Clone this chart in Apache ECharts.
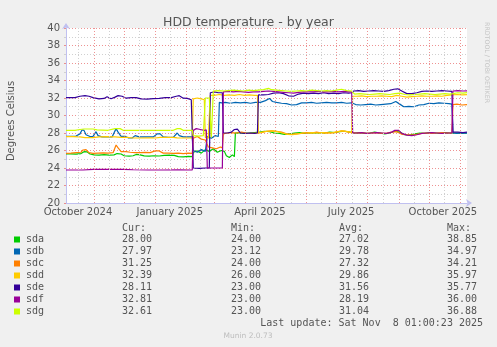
<!DOCTYPE html>
<html>
<head>
<meta charset="utf-8">
<script src="https://cdn.jsdelivr.net/npm/echarts@6/dist/echarts.min.js"></script>
<style>
  html, body { margin: 0; padding: 0; background: #f0f0f0; }
  #chart { width: 497px; height: 347px; }
</style>
</head>
<body>
<div id="chart"></div>
<script>
// Day numbers count from 1 October 2024 (day 0); the graph spans 400 days up to 8 Nov 2025 01:00.
const rangeStart = 3.04;
const rangeEnd = 403.04;

// Month boundaries (major grid) and mid-month lines (minor grid)
const monthStarts = [31, 61, 92, 123, 151, 182, 212, 243, 273, 304, 335, 365, 396];
const midMonths = [15.5, 46, 76.5, 107.5, 137, 166.5, 197, 227.5, 258, 288.5, 319.5, 350, 380.5];

// X tick labels
const labelDays = [15, 106.5, 196.5, 287.5, 379];
const labelTexts = ['October 2024', 'January 2025', 'April 2025', 'July 2025', 'October 2025'];

// Disk names and colours
const disks = ['sda', 'sdb', 'sdc', 'sdd', 'sde', 'sdf', 'sdg'];
const colors = ['#00cc00', '#0066b3', '#ff8000', '#ffcc00', '#330099', '#990099', '#ccff00'];

// Legend statistics
const curVals = ['28.00', '27.97', '31.25', '32.39', '28.11', '32.81', '32.61'];
const minVals = ['24.00', '23.12', '24.00', '26.00', '23.00', '23.00', '23.00'];
const avgVals = ['27.02', '29.78', '27.32', '29.86', '31.56', '28.19', '31.04'];
const maxVals = ['38.85', '34.97', '34.21', '35.97', '35.77', '36.00', '36.88'];

// Temperatures in degrees Celsius, [day, value]
const sda = [[3.04,25.6],[8,25.62],[13,25.58],[18,25.65],[21,25.87],[24,25.85],[27,25.6],[31,25.5],[36,25.48],[41,25.52],[46,25.47],[51,25.5],[54,25.65],[58,25.6],[61,25.4],[66,25.35],[70,25.4],[73,25.55],[77,25.5],[81,25.38],[86,25.35],[91,25.4],[96,25.37],[101,25.45],[106,25.48],[111,25.45],[115,25.3],[120,25.28],[125,25.32],[129,25.3],
  [130,25.8],[134,25.95],[138,25.7],[142,26.1],[146,25.9],[150,26.2],[154,25.8],[158,26.0],[161,25.9],[163,25.4],[166,25.2],[169,25.5],[171,25.3],[172,28.0],
  [176,28.05],[181,27.95],[186,28.0],[191,28.05],[196,28.1],[201,28.2],[206,28.15],[211,28.0],[216,27.95],[221,27.85],[226,27.9],[231,28.0],[236,28.05],[241,27.95],[246,28.0],[251,28.05],[256,28.0],[261,28.0],[266,28.1],[271,28.05],[276,28.15],[281,28.2],[286,28.1],
  [291,28.0],[296,28.05],[301,27.95],[306,28.0],[311,28.1],[316,28.0],[321,27.9],[326,28.0],[331,28.2],[336,28.1],[341,27.8],[346,27.75],[351,27.9],[356,28.0],[361,27.95],[366,28.05],[371,28.0],[376,27.95],[381,28.05],[386,28.0],[391,28.0],[396,27.98],[403.04,28.0]];

const sdb = [[3.04,27.62],[8,27.62],[13,27.65],[17,27.9],[19,28.34],[21,28.3],[23,27.8],[27,27.6],[30,27.62],[33,28.15],[35,27.7],[39,27.55],[44,27.55],[49,27.55],[53,28.5],[55,28.1],[58,27.62],[62,27.62],[65,27.45],[69,27.43],[72,27.7],[76,27.55],[80,27.55],[85,27.55],[90,27.55],[94,27.9],[97,27.9],[100,27.55],[105,27.5],[110,27.5],[114,28.0],[116,27.7],[120,27.55],[125,27.55],[129,27.55],
  [130,26.0],[134,25.8],[138,26.1],[142,25.9],[144,27.6],[148,27.4],[152,27.7],[155,27.6],[156,31.5],
  [158,31.45],[162,31.5],[167,31.4],[172,31.5],[177,31.45],[182,31.5],[187,31.4],[192,31.5],[197,31.5],[202,31.7],[206,31.95],[209,31.6],[213,31.5],[218,31.4],[223,31.35],[228,31.2],[233,31.25],[238,31.45],[243,31.45],[248,31.5],[253,31.4],[258,31.45],[263,31.5],[268,31.45],[273,31.45],[278,31.5],[283,31.4],[288,31.45],
  [292,31.25],[297,31.2],[302,31.25],[307,31.3],[312,31.2],[317,31.25],[322,31.3],[327,31.35],[332,31.6],[336,31.3],[340,31.0],[345,31.05],[350,31.0],[355,31.2],[360,31.25],[365,31.4],[370,31.35],[375,31.45],[380,31.4],[385,31.35],[388,31.3],[389,28.0],[393,27.95],[398,28.0],[403.04,27.97]];

const sdc = [[3.04,25.68],[8,25.7],[13,25.75],[18,25.8],[20,26.06],[23,26.1],[26,25.75],[30,25.68],[35,25.7],[40,25.72],[45,25.7],[50,25.75],[53,26.63],[55,26.3],[58,25.87],[63,25.87],[67,25.8],[72,25.75],[77,25.75],[82,25.78],[87,25.75],[92,25.95],[96,25.95],[100,25.7],[105,25.7],[110,25.68],[115,25.7],[120,25.65],[125,25.7],[129,25.68],
  [130,27.4],[134,27.6],[138,27.3],[142,27.2],[145,26.4],[149,26.3],[153,26.2],[157,26.4],[159,26.3],[160,27.9],[164,28.0],
  [168,28.05],[173,28.0],[178,28.1],[183,28.0],[188,27.95],[193,28.0],[198,28.05],[203,28.2],[208,28.25],[213,28.2],[218,28.1],[223,27.9],[228,27.85],[233,27.9],[238,27.95],[243,28.05],[248,28.0],[253,28.1],[258,28.0],[263,28.05],[268,28.0],[273,28.1],[278,28.25],[283,28.15],[288,28.05],
  [293,28.0],[298,28.05],[303,27.95],[308,28.0],[313,28.05],[318,27.95],[323,28.0],[328,28.1],[333,28.15],[338,27.85],[343,27.8],[348,27.75],[353,27.85],[358,27.95],[363,28.0],[368,27.95],[373,28.0],[378,28.05],[383,28.0],[388,28.0],[389,31.25],[393,31.3],[398,31.2],[403.04,31.25]];

const sdd = [[3.04,27.58],[10,27.58],[17,27.55],[22,27.47],[30,27.47],[36,27.55],[44,27.58],[52,27.55],[58,27.5],[64,27.5],[70,27.43],[78,27.43],[86,27.45],[92,27.43],[97,27.5],[103,27.5],[110,27.5],[114,27.45],[120,27.43],[125,27.43],[129,27.43],
  [130,31.9],[134,32.0],[138,31.9],[141,31.8],[142,27.5],[145,27.4],[146,27.6],[147,32.3],[151,32.3],[156,32.4],[161,32.3],[166,32.35],[171,32.3],[176,32.4],[181,32.3],[186,32.35],[191,32.3],[194,32.3],[195,28.0],
  [199,28.1],[204,28.2],[209,28.25],[214,28.15],[219,28.0],[224,27.85],[229,27.8],[234,27.9],[239,28.0],[244,28.0],[249,28.05],[254,28.0],[259,28.05],[264,28.0],[269,28.05],[274,28.15],[279,28.25],[284,28.15],[288,28.05],[289,32.2],
  [293,32.2],[298,32.25],[303,32.15],[308,32.2],[313,32.2],[318,32.25],[323,32.2],[328,32.15],[333,32.3],[338,32.2],[343,32.1],[348,32.15],[353,32.2],[358,32.25],[363,32.2],[368,32.2],[373,32.25],[378,32.2],[383,32.3],[388,32.35],[393,32.4],[398,32.35],[403.04,32.39]];

const sde = [[3.04,32.04],[12,32.04],[17,32.2],[22,32.27],[26,32.2],[30,32.04],[36,31.9],[41,31.95],[44,32.15],[48,31.92],[52,32.1],[55,32.27],[59,32.2],[63,31.98],[68,32.04],[73,32.04],[78,31.9],[84,31.88],[90,31.92],[96,31.95],[102,32.04],[108,32.04],[113,32.2],[116,32.27],[120,31.98],[124,31.95],[128,31.8],[129,31.77],
  [130,24.0],[136,23.95],[142,24.0],[146,24.0],[147,32.6],[151,32.7],[155,32.6],[159,32.6],[160,28.0],[164,28.0],[168,28.1],[171,28.4],[174,28.45],[177,28.0],[182,27.95],[187,28.0],[191,27.95],[194,28.0],[195,32.35],
  [200,32.35],[205,32.4],[210,32.55],[215,32.6],[220,32.5],[225,32.25],[230,32.2],[235,32.45],[240,32.55],[245,32.5],[250,32.55],[255,32.5],[260,32.6],[265,32.5],[270,32.55],[275,32.5],[280,32.6],[285,32.55],[288,32.6],
  [290,32.8],[295,32.85],[300,32.75],[305,32.8],[310,32.85],[315,32.8],[320,32.75],[325,32.85],[330,33.0],[334,33.05],[338,32.8],[343,32.5],[348,32.5],[353,32.6],[358,32.75],[363,32.8],[368,32.75],[373,32.8],[378,32.85],[383,32.8],[388,32.75],[389,28.1],[394,28.1],[399,28.05],[403.04,28.11]];

const sdf = [[3.04,23.77],[20,23.77],[30,23.85],[45,23.85],[60,23.85],[70,23.8],[85,23.77],[100,23.77],[115,23.78],[129,23.77],
  [130,28.3],[133,28.5],[137,28.4],[141,28.3],[143,28.35],[144,24.0],[150,24.0],[155,24.0],[159,24.0],[160,32.7],
  [165,32.75],[170,32.7],[175,32.75],[180,32.7],[185,32.65],[190,32.7],[195,32.7],[200,32.75],[205,32.8],[210,32.75],[215,32.7],[220,32.65],[225,32.6],[230,32.55],[235,32.65],[240,32.7],[245,32.7],[250,32.7],[255,32.75],[260,32.7],[265,32.7],[270,32.75],[275,32.7],[280,32.75],[285,32.7],[288,32.7],[289,28.0],
  [293,28.0],[298,28.05],[303,27.95],[308,28.0],[313,28.05],[318,28.0],[323,27.95],[328,28.1],[331,28.3],[335,28.3],[338,27.95],[343,27.75],[348,27.7],[353,27.8],[358,27.95],[363,28.0],[368,28.05],[373,28.0],[378,27.95],[383,28.0],[388,28.0],[389,32.8],[394,32.85],[399,32.8],[403.04,32.81]];

const sdg = [[3.04,28.31],[12,28.31],[17,28.4],[21,28.46],[30,28.46],[34,28.35],[45,28.31],[52,28.5],[57,28.5],[60,28.31],[70,28.31],[80,28.31],[90,28.31],[100,28.31],[110,28.31],[114,28.5],[117,28.5],[120,28.31],[129,28.31],
  [130,27.7],[135,27.65],[140,27.7],[141,27.7],[142,32.0],[146,32.0],[147,32.0],[148,27.5],[149,27.45],[150,32.8],[155,32.85],[160,32.8],
  [165,32.85],[170,32.9],[175,32.85],[180,32.8],[185,32.9],[190,32.85],[195,32.9],[200,32.95],[205,33.1],[208,32.95],[213,32.9],[218,32.85],[223,32.8],[228,32.75],[233,32.8],[238,32.85],[243,32.8],[248,32.9],[253,32.85],[258,32.8],[263,32.85],[268,32.8],[273,32.9],[278,33.0],[283,32.85],[288,32.8],
  [291,32.45],[296,32.5],[301,32.45],[306,32.4],[311,32.45],[316,32.5],[321,32.45],[326,32.4],[331,32.5],[336,32.55],[341,32.4],[346,32.35],[351,32.4],[356,32.45],[361,32.5],[366,32.45],[371,32.4],[376,32.45],[381,32.5],[386,32.45],[389,32.5],[394,32.6],[399,32.55],[403.04,32.61]];

const seriesData = [sda, sdb, sdc, sdd, sde, sdf, sdg];

const TEXT = '#555';
const SANS = 'DejaVu Sans';
const MONO = 'DejaVu Sans Mono';
const AXIS_COLOR = '#c0c0f0';

const chart = echarts.init(document.getElementById('chart'), null, { renderer: 'canvas' });

// Legend table below the plot
const legendGraphics = [];
const colEnds = [152, 261, 369, 477];
const headers = ['Cur:', 'Min:', 'Avg:', 'Max:'];
headers.forEach((h, j) => {
  legendGraphics.push({
    type: 'text', x: colEnds[j] - 30, y: 228,
    style: { text: h, font: '10px "' + MONO + '"', fill: TEXT, textAlign: 'left', textVerticalAlign: 'middle' }
  });
});
disks.forEach((name, i) => {
  const y = 239.5 + 12 * i;
  legendGraphics.push({
    type: 'rect', shape: { x: 14, y: y - 3, width: 6, height: 6 },
    style: { fill: colors[i] }
  });
  legendGraphics.push({
    type: 'text', x: 26, y: y,
    style: { text: name, font: '10px "' + MONO + '"', fill: TEXT, textAlign: 'left', textVerticalAlign: 'middle' }
  });
  [curVals[i], minVals[i], avgVals[i], maxVals[i]].forEach((v, j) => {
    legendGraphics.push({
      type: 'text', x: colEnds[j], y: y,
      style: { text: v, font: '10px "' + MONO + '"', fill: TEXT, textAlign: 'right', textVerticalAlign: 'middle' }
    });
  });
});
legendGraphics.push({
  type: 'text', x: 483, y: 323.5,
  style: { text: 'Last update: Sat Nov  8 01:00:23 2025', font: '10px "' + MONO + '"', fill: TEXT, textAlign: 'right', textVerticalAlign: 'middle' }
});
legendGraphics.push({
  type: 'text', x: 248, y: 336,
  style: { text: 'Munin 2.0.73', font: '7.5px "' + SANS + '"', fill: '#bdbdbd', textAlign: 'center', textVerticalAlign: 'middle' }
});
// Vertical axis title and side credit
legendGraphics.push({
  type: 'text', x: 11, y: 121, rotation: Math.PI / 2,
  style: { text: 'Degrees Celsius', font: '10px "' + SANS + '"', fill: TEXT, textAlign: 'center', textVerticalAlign: 'middle' }
});
legendGraphics.push({
  type: 'text', x: 487, y: 22, rotation: -Math.PI / 2,
  style: { text: 'RRDTOOL / TOBI OETIKER', font: '6.3px "' + SANS + '"', fill: '#c4c4c4', textAlign: 'left', textVerticalAlign: 'middle' }
});

const gridSeries = [
  {
    type: 'line', data: [], silent: true, z: 1,
    markLine: {
      silent: true, symbol: 'none', animation: false, label: { show: false },
      lineStyle: { color: '#d0d0d0', width: 1, type: [1, 2] },
      data: midMonths.map(d => ({ xAxis: d }))
    }
  },
  {
    type: 'line', data: [], silent: true, z: 1,
    markLine: {
      silent: true, symbol: 'none', animation: false, label: { show: false },
      lineStyle: { color: 'rgba(232,110,110,0.75)', width: 1, type: [1, 2] },
      data: monthStarts.map(d => ({ xAxis: d }))
    }
  }
];

const lineSeries = disks.map((name, i) => ({
  name: name,
  type: 'line',
  data: seriesData[i],
  showSymbol: false,
  symbol: 'none',
  z: 3,
  lineStyle: { color: colors[i], width: 1.2 },
  itemStyle: { color: colors[i] }
}));

chart.setOption({
  animation: false,
  backgroundColor: '#f0f0f0',
  title: {
    text: 'HDD temperature - by year',
    left: 'center', top: 11,
    textStyle: { fontSize: 12.5, fontWeight: 'normal', color: TEXT, fontFamily: SANS }
  },
  grid: {
    left: 66, top: 28, right: 30, bottom: 144,
    show: true, backgroundColor: '#ffffff', borderWidth: 0
  },
  xAxis: {
    type: 'value',
    min: rangeStart, max: rangeEnd,
    axisLine: {
      show: true, onZero: false,
      lineStyle: { color: AXIS_COLOR, width: 1 },
      symbol: ['none', 'arrow'], symbolSize: [6, 6], symbolOffset: [0, 5]
    },
    axisTick: { show: false },
    splitLine: { show: false },
    axisLabel: {
      customValues: labelDays,
      color: TEXT, fontSize: 10, fontFamily: SANS, margin: 4,
      formatter: function (v) {
        const k = labelDays.indexOf(v);
        return k >= 0 ? labelTexts[k] : '';
      }
    }
  },
  yAxis: {
    type: 'value',
    min: 20, max: 40, interval: 2,
    axisLine: {
      show: true,
      lineStyle: { color: AXIS_COLOR, width: 1 },
      symbol: ['none', 'arrow'], symbolSize: [6, 6], symbolOffset: [0, 5]
    },
    axisTick: { show: true, length: 2, lineStyle: { color: 'rgba(232,110,110,0.75)' } },
    minorTick: { show: true, splitNumber: 2, length: 2, lineStyle: { color: '#d0d0d0' } },
    axisLabel: { color: TEXT, fontSize: 10, fontFamily: SANS, margin: 6 },
    splitLine: { show: true, lineStyle: { color: 'rgba(232,110,110,0.75)', width: 1, type: [1, 2] } },
    minorSplitLine: { show: true, lineStyle: { color: '#d0d0d0', width: 1, type: [1, 2] } }
  },
  graphic: legendGraphics,
  series: gridSeries.concat(lineSeries)
});
</script>
</body>
</html>
